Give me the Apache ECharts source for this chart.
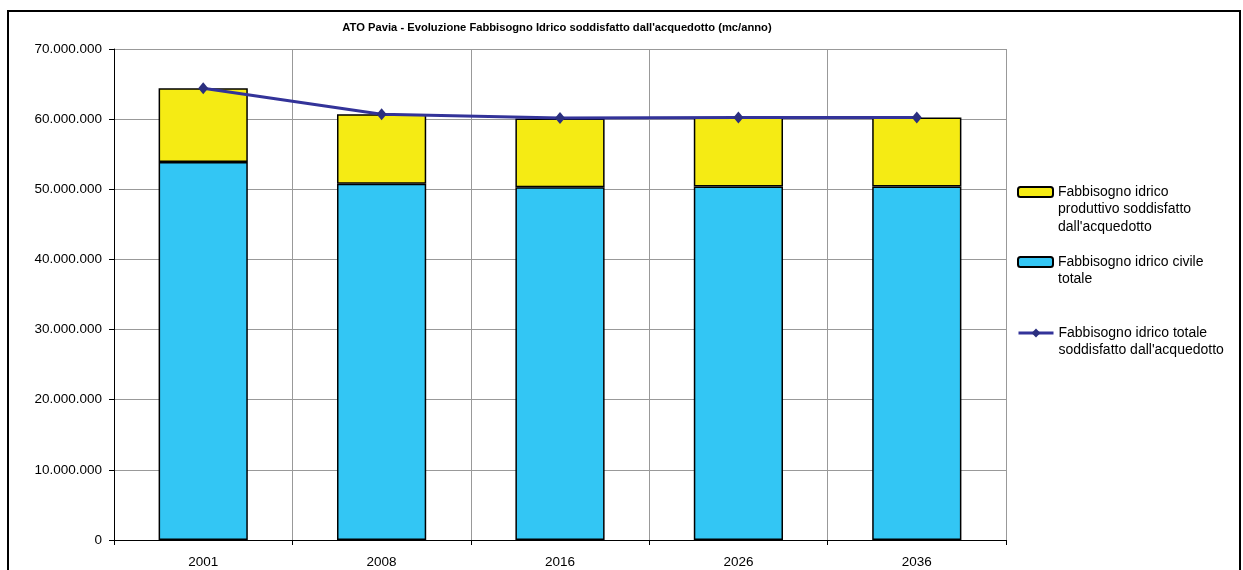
<!DOCTYPE html>
<html>
<head>
<meta charset="utf-8">
<script src="https://cdn.jsdelivr.net/npm/echarts@6/dist/echarts.min.js"></script>
<style>html,body{margin:0;padding:0;background:#fff}#c{width:1243px;height:570px}</style>
</head>
<body>
<div id="c"></div>
<script>
var categories = ['2001', '2008', '2016', '2026', '2036'];
var civile = [53900000, 50800000, 50300000, 50400000, 50400000];
var produttivo = [10500000, 9900000, 9800000, 9850000, 9850000];
var totale = [64400000, 60700000, 60150000, 60250000, 60250000];
var nameProd = 'Fabbisogno idrico\nproduttivo soddisfatto\ndall\'acquedotto';
var nameCiv = 'Fabbisogno idrico civile\ntotale';
var nameTot = 'Fabbisogno idrico totale\nsoddisfatto dall\'acquedotto';
var titleText = 'ATO Pavia - Evoluzione Fabbisogno Idrico soddisfatto dall\'acquedotto (mc/anno)';

function fmt(v) { return String(v).replace(/\B(?=(\d{3})+(?!\d))/g, '.'); }

var font = 'Liberation Sans, Arial, sans-serif';
var LH = 17.5;
function legendFor(name, iconCenterY, extra) {
  var lines = name.split('\n').length;
  var pad = '';
  for (var i = 1; i < lines; i++) pad += '\n';
  var total = (2 * lines - 1) * LH;
  var l = {
    data: [name], left: 1017, top: iconCenterY - total / 2, orient: 'vertical', padding: 0,
    itemWidth: 35, itemHeight: 10, selectedMode: false,
    formatter: function (n) { return pad + n; },
    textStyle: { fontFamily: font, fontSize: 14, color: '#000', lineHeight: LH }
  };
  if (extra) for (var k in extra) l[k] = extra[k];
  return l;
}
var chart = echarts.init(document.getElementById('c'));
chart.setOption({
  animation: false,
  title: { text: titleText, left: 552, top: 17, textAlign: 'center',
    textStyle: { fontFamily: font, fontSize: 11.2, fontWeight: 'bold', color: '#000' } },
  graphic: [{ type: 'rect', shape: { x: 8, y: 11, width: 1232, height: 600 },
    style: { fill: 'none', stroke: '#000', lineWidth: 2 }, z: 100 }],
  legend: [
    legendFor(nameProd, 192),
    legendFor(nameCiv, 262),
    legendFor(nameTot, 333, { lineStyle: { width: 3, color: '#333399' }, itemHeight: 11 })
  ],
  grid: { left: 114, right: 237, top: 49, bottom: 30, containLabel: false },
  xAxis: {
    type: 'category', data: categories, boundaryGap: true,
    axisLine: { lineStyle: { color: '#000', width: 1 } },
    axisTick: { show: true, length: 5, lineStyle: { color: '#000' } },
    axisLabel: { fontFamily: font, fontSize: 13.5, color: '#000', margin: 15 },
    splitLine: { show: true, lineStyle: { color: '#999', width: 1 } }
  },
  yAxis: {
    type: 'value', min: 0, max: 70000000, interval: 10000000,
    axisLine: { show: true, lineStyle: { color: '#000', width: 1 } },
    axisTick: { show: true, length: 5, lineStyle: { color: '#000' } },
    axisLabel: { fontFamily: font, fontSize: 13.5, color: '#000', margin: 12, formatter: fmt },
    splitLine: { show: true, lineStyle: { color: '#999', width: 1 } }
  },
  series: [
    { name: nameCiv, type: 'bar', stack: 'a', data: civile, barCategoryGap: '50%',
      itemStyle: { color: '#33C6F4', borderColor: '#000', borderWidth: 1.5 } },
    { name: nameProd, type: 'bar', stack: 'a', data: produttivo, barCategoryGap: '50%',
      itemStyle: { color: '#F5EB14', borderColor: '#000', borderWidth: 1.5 } },
    { name: nameTot, type: 'line', data: totale, symbol: 'diamond', symbolSize: [10, 12],
      lineStyle: { color: '#333399', width: 3 }, itemStyle: { color: '#2B2F7F' }, z: 5 }
  ]
});
</script>
</body>
</html>
